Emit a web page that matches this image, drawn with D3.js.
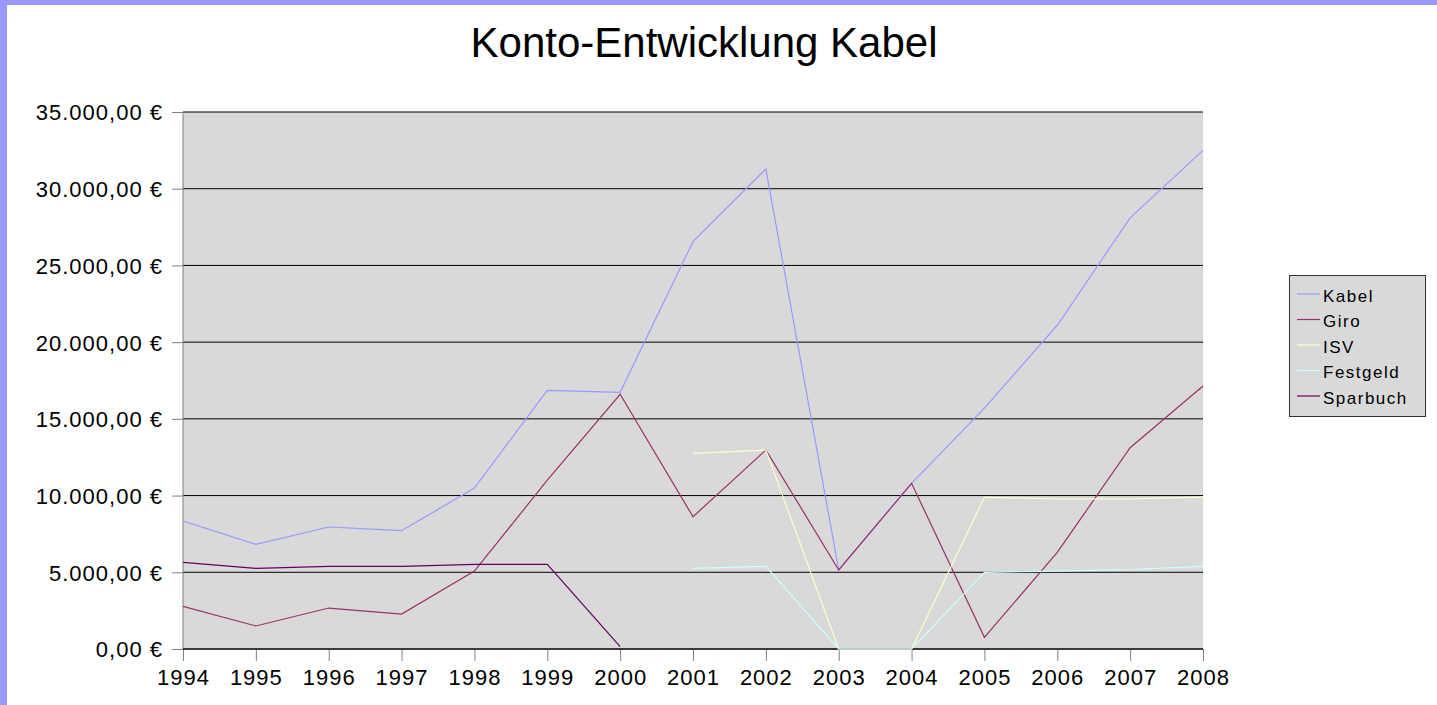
<!DOCTYPE html>
<html>
<head>
<meta charset="utf-8">
<script src="https://cdn.jsdelivr.net/npm/d3@7"></script>
<style>
  body { margin: 0; background: #fff; }
  svg { display: block; font-family: "Liberation Sans", Arial, sans-serif; }
</style>
</head>
<body>
<div id="chart"></div>
<script>
// data
const years = [1994, 1995, 1996, 1997, 1998, 1999, 2000, 2001, 2002, 2003, 2004, 2005, 2006, 2007, 2008];
const kabel    = [8340, 6820, 7950, 7710, 10490, 16860, 16730, 26550, 31280, 5150, 10800, 15700, 21100, 28100, 32500];
const giro     = [2780, 1500, 2670, 2280, 5080, 11000, 16600, 8620, 12970, 5150, 10800, 760, 6300, 13120, 17140];
const isv      = [null, null, null, null, null, null, null, 12750, 12970, 0, 0, 9890, 9780, 9780, 9900];
const festgeld = [null, null, null, null, null, null, null, 5260, 5390, 0, 0, 5000, 5080, 5180, 5390];
const sparbuch = [5650, 5260, 5390, 5390, 5520, 5520, 150, null, null, null, null, null, null, null, null];
const seriesNames = ["Kabel", "Giro", "ISV", "Festgeld", "Sparbuch"];
const seriesColors = ["#9999ff", "#993366", "#ffffcc", "#ccffff", "#660066"];
const yTicks = [0, 5000, 10000, 15000, 20000, 25000, 30000, 35000];

const W = 1437, H = 705;
const plot = {left: 183, right: 1203, top: 112, bottom: 649};

const svg = d3.select("#chart").append("svg").attr("width", W).attr("height", H);

// page frame (blue band top and left)
svg.append("rect").attr("x", 0).attr("y", 0).attr("width", W).attr("height", 5).attr("fill", "#9999ff");
svg.append("rect").attr("x", 0).attr("y", 0).attr("width", 7).attr("height", H).attr("fill", "#9999ff");

// title
svg.append("text")
    .attr("x", 704).attr("y", 57)
    .attr("text-anchor", "middle")
    .style("font-size", "42px")
    .attr("fill", "#000")
    .text("Konto-Entwicklung Kabel");

const xScale = d3.scaleLinear()
    .domain([years[0], years[years.length - 1]])
    .range([plot.left, plot.right]);
const yScale = d3.scaleLinear()
    .domain([0, 35000])
    .range([plot.bottom, plot.top]);

const de = d3.formatLocale({decimal: ",", thousands: ".", grouping: [3], currency: ["", " €"]});
const fmt = de.format("$,.2f");

// plot background
svg.append("rect")
    .attr("x", plot.left).attr("y", plot.top)
    .attr("width", plot.right - plot.left).attr("height", plot.bottom - plot.top)
    .attr("fill", "#d9d9d9");

// grid
svg.append("g").selectAll("line")
    .data(yTicks)
    .enter().append("line")
    .attr("x1", plot.left).attr("x2", plot.right)
    .attr("y1", d => yScale(d)).attr("y2", d => yScale(d))
    .attr("stroke", "#000").attr("stroke-width", 1);

// y axis
const yAxis = d3.axisLeft(yScale).tickValues(yTicks).tickFormat(fmt).tickSize(11).tickPadding(9);
const gy = svg.append("g").attr("transform", `translate(${plot.left},0)`).call(yAxis);
gy.select(".domain").remove();
gy.selectAll(".tick line").attr("stroke", "#808080");
gy.selectAll(".tick text")
    .style("font-size", "22px").style("letter-spacing", "1px")
    .attr("fill", "#000").attr("dy", "0.36em");
svg.append("line")
    .attr("x1", plot.left).attr("x2", plot.left)
    .attr("y1", plot.top).attr("y2", plot.bottom)
    .attr("stroke", "#808080");

// x axis
const xAxis = d3.axisBottom(xScale).tickValues(years).tickFormat(d3.format("d")).tickSize(12).tickPadding(8);
const gx = svg.append("g").attr("transform", `translate(0,${plot.bottom})`).call(xAxis);
gx.select(".domain").remove();
gx.selectAll(".tick line").attr("stroke", "#808080");
gx.selectAll(".tick text")
    .style("font-size", "22px").style("letter-spacing", "1px")
    .attr("fill", "#000").attr("dy", "0.71em");
svg.append("line")
    .attr("x1", plot.left).attr("x2", plot.right)
    .attr("y1", plot.bottom).attr("y2", plot.bottom)
    .attr("stroke", "#000");

// lines
const allSeries = [kabel, giro, isv, festgeld, sparbuch];
const line = d3.line()
    .defined(d => d.v != null)
    .x(d => xScale(d.year))
    .y(d => yScale(d.v));

svg.append("g").selectAll("path")
    .data(allSeries)
    .enter().append("path")
    .attr("d", vals => line(vals.map((v, i) => ({year: years[i], v: v}))))
    .attr("fill", "none")
    .attr("stroke", (d, i) => seriesColors[i])
    .attr("stroke-width", 1.2);

// legend
const legend = svg.append("g").attr("transform", "translate(1289,275)");
legend.append("rect")
    .attr("x", 0.5).attr("y", 0.5).attr("width", 136).attr("height", 141)
    .attr("fill", "#d9d9d9").attr("stroke", "#333");
const items = legend.selectAll(".item")
    .data(seriesNames)
    .enter().append("g")
    .attr("class", "item")
    .attr("transform", (d, i) => `translate(0,${19 + i * 25.5})`);
items.append("line")
    .attr("x1", 8).attr("x2", 31).attr("y1", 0).attr("y2", 0)
    .attr("stroke", (d, i) => seriesColors[i]).attr("stroke-width", 1.2);
items.append("text")
    .attr("x", 34).attr("y", 7.5)
    .style("font-size", "17px").style("letter-spacing", "1.5px")
    .attr("fill", "#000")
    .text(d => d);
</script>
</body>
</html>
